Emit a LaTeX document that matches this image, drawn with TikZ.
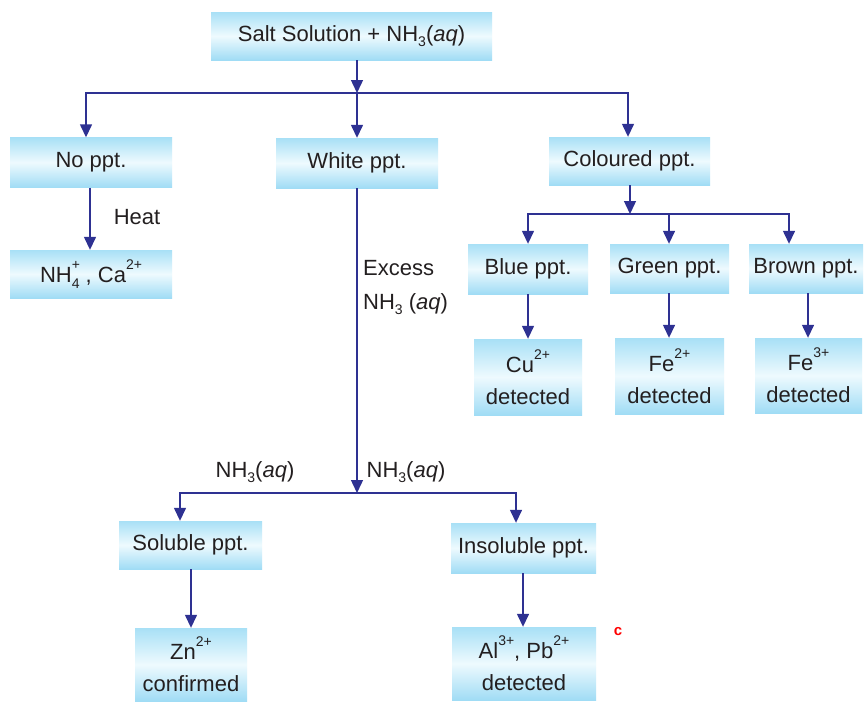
\documentclass[tikz,border=0pt]{standalone}
\usepackage{fontspec}
\setmainfont{Liberation Sans}
\usetikzlibrary{arrows.meta}
\definecolor{txt}{RGB}{35,31,32}
\definecolor{arrc}{RGB}{46,49,146}
\definecolor{bxtop}{RGB}{168,224,246}
\definecolor{bxmid}{RGB}{238,250,254}
\definecolor{bxbot}{RGB}{160,220,245}
\newcommand\mysup[1]{\raisebox{1.15ex}{\fontsize{14}{14}\selectfont #1}}
\newcommand\mysub[1]{\raisebox{-0.45ex}{\fontsize{14}{14}\selectfont #1}}
\newcommand\mysupsub[2]{\rlap{\raisebox{1.15ex}{\fontsize{14}{14}\selectfont #1}}\raisebox{-0.55ex}{\fontsize{14}{14}\selectfont #2}}
\begin{document}
\begin{tikzpicture}[x=1pt,y=-1pt,
  font=\fontsize{22}{32}\selectfont, text=txt,
  bx/.style={rectangle, inner sep=0pt, top color=bxtop, bottom color=bxbot, middle color=bxmid, align=center},
  arr/.style={draw=arrc, line width=1.4pt, -{Triangle[length=13pt,width=12pt]}},
  lbl/.style={inner sep=0pt}]
\useasboundingbox (0,0) rectangle (866,702);
\fill[white] (0,0) rectangle (866,702);
% boxes
\node[bx, minimum width=281pt, minimum height=48pt] (salt) at (351.5,36) {Salt Solution + NH\mysub{3}(\textit{aq})};
\node[bx, minimum width=162pt, minimum height=50pt] (np) at (91,162.5) {No ppt.};
\node[bx, minimum width=162pt, minimum height=50pt] (wp) at (357,163) {White ppt.};
\node[bx, minimum width=161pt, minimum height=48pt] (cp) at (629.5,161) {Coloured ppt.};
\node[bx, minimum width=162pt, minimum height=48pt] (nh4) at (91,274) {NH\mysupsub{+}{4} , Ca\mysup{2+}};
\node[bx, minimum width=120pt, minimum height=50pt] (blue) at (528,269) {Blue ppt.};
\node[bx, minimum width=119pt, minimum height=49pt] (green) at (669.5,268.5) {Green ppt.};
\node[bx, minimum width=114pt, minimum height=49pt] (brown) at (806,268.5) {Brown ppt.};
\node[bx, minimum width=108pt, minimum height=76pt] (cu) at (528,377) {Cu\mysup{2+}\\detected};
\node[bx, minimum width=109pt, minimum height=76pt] (fe2) at (669.5,376) {Fe\mysup{2+}\\detected};
\node[bx, minimum width=107pt, minimum height=75pt] (fe3) at (808.5,375.5) {Fe\mysup{3+}\\detected};
\node[bx, minimum width=143pt, minimum height=48pt] (sol) at (190.5,545) {Soluble ppt.};
\node[bx, minimum width=145pt, minimum height=50pt] (ins) at (523.5,548) {Insoluble ppt.};
\node[bx, minimum width=112pt, minimum height=73pt] (zn) at (191,664.5) {Zn\mysup{2+}\\confirmed};
\node[bx, minimum width=144pt, minimum height=73pt] (al) at (524,663.5) {Al\mysup{3+}, Pb\mysup{2+}\\detected};
% junctions
\coordinate (j1) at (357,93);
\coordinate (j2) at (630,214);
\coordinate (j3) at (357,493);
% top level
\draw[arr] (salt.south -| j1) -- (j1);
\draw[arr] (j1) -| ([xshift=-5pt]np.north);
\draw[arr] (j1) -| ([xshift=-1.5pt]cp.north);
\draw[arr] (j1) -- (wp.north);
% no ppt
\draw[arr] ([xshift=-1pt]np.south) -- ([xshift=-1pt]nh4.north);
\node[lbl] (heat) at (137,217) {Heat};
% coloured
\draw[arr] (cp.south -| j2) -- (j2);
\draw[arr] (j2) -| (blue.north);
\draw[arr] (j2) -| ([xshift=-0.5pt]green.north);
\draw[arr] (j2) -| ([xshift=-17pt]brown.north);
\draw[arr] (blue.south) -- (cu.north);
\draw[arr] ([xshift=-0.5pt]green.south) -- ([xshift=-0.5pt]fe2.north);
\draw[arr] ([xshift=2pt]brown.south) -- ([xshift=-0.5pt]fe3.north);
% white
\draw[arr] (wp.south) -- (j3);
\node[lbl, anchor=west] (exc) at (363,268) {Excess};
\node[lbl, anchor=west] (exn) at (363,304) {NH\mysub{3} (\textit{aq})};
\draw[arr] (j3) -| ([xshift=-10.5pt]sol.north);
\draw[arr] (j3) -| ([xshift=-7.5pt]ins.north);
\node[lbl] (la) at (255,472) {NH\mysub{3}(\textit{aq})};
\node[lbl] (lb) at (406,472) {NH\mysub{3}(\textit{aq})};
\draw[arr] ([xshift=0.5pt]sol.south) -- ([xshift=0.5pt]sol.south |- zn.north);
\draw[arr] ([xshift=-0.5pt]ins.south) -- ([xshift=-0.5pt]ins.south |- al.north);
% stray mark
\node[lbl, text=red, font=\fontsize{15}{15}\selectfont\bfseries] (cm) at (618,632) {c};
\end{tikzpicture}
\end{document}
